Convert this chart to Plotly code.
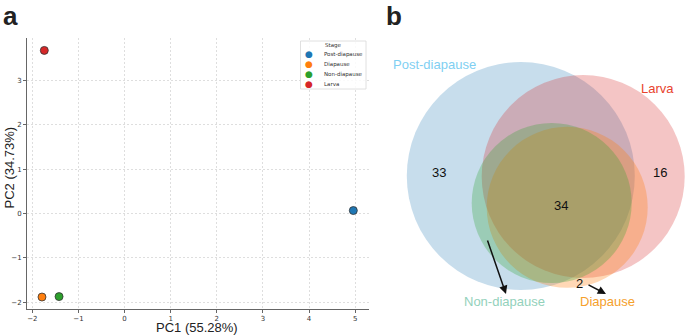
import plotly.graph_objects as go

# ---------------- data ----------------
stages = ["Post-diapause", "Diapause", "Non-diapause", "Larva"]
pc1 = [4.96, -1.79, -1.42, -1.74]
pc2 = [0.07, -1.88, -1.87, 3.68]
stage_colors = ["#1f77b4", "#ff7f0e", "#2ca02c", "#d62728"]

x_ticks = [-2, -1, 0, 1, 2, 3, 4, 5]
y_ticks = [-2, -1, 0, 1, 2, 3]

venn_sets = ["Post-diapause", "Larva", "Diapause", "Non-diapause"]
venn_regions = ["Post-diapause only", "Larva only", "Shared", "Diapause only"]
venn_counts = [33, 16, 34, 2]

# ---------------- layout constants ----------------
W, H = 685, 335
ax_left, ax_right, ax_top, ax_bottom = 27, 369, 38, 309

def px(x):
    return x / W

def py(y):
    return 1 - y / H

fig = go.Figure()

for name, x, y, c in zip(stages, pc1, pc2, stage_colors):
    fig.add_trace(go.Scatter(
        x=[x], y=[y], mode="markers", name=name, showlegend=False,
        marker=dict(size=8, color=c, line=dict(color="#333333", width=0.8)),
        xaxis="x", yaxis="y", hoverinfo="skip"))

# invisible trace so the venn axes exist
fig.add_trace(go.Scatter(x=[400], y=[300], mode="markers", marker=dict(opacity=0),
                         showlegend=False, xaxis="x2", yaxis="y2", hoverinfo="skip"))

tickfont = dict(family="DejaVu Sans", size=7, color="#333333")
grid_common = dict(showgrid=True, gridcolor="#dedede", gridwidth=0.7, griddash="2px,2px",
                   zeroline=False, showline=True, linecolor="#666666", linewidth=1,
                   ticks="outside", ticklen=3, tickcolor="#666666", tickwidth=0.8,
                   tickfont=tickfont)
fig.update_layout(
    width=W, height=H, margin=dict(l=0, r=0, t=0, b=0),
    paper_bgcolor="white", plot_bgcolor="rgba(0,0,0,0)",
    showlegend=False,
    xaxis=dict(domain=[px(ax_left), px(ax_right)], range=[-2.115, 5.30],
               tickvals=x_ticks, ticktext=[("\u2212" + str(-v)) if v < 0 else str(v) for v in x_ticks],
               anchor="y", **grid_common),
    yaxis=dict(domain=[py(ax_bottom), py(ax_top)], range=[-2.15, 3.96],
               tickvals=y_ticks, ticktext=[("\u2212" + str(-v)) if v < 0 else str(v) for v in y_ticks],
               anchor="x", **grid_common),
    xaxis2=dict(domain=[380 / W, 1], range=[380, 685], visible=False, anchor="y2",
                fixedrange=True),
    yaxis2=dict(domain=[0, 1], range=[335, 0], visible=False, anchor="x2",
                fixedrange=True),
)

annotations = []
shapes = []

# panel letters
annotations.append(dict(text="<b>a</b>", x=px(2), y=1, xref="paper", yref="paper",
                        xanchor="left", yanchor="top", showarrow=False, borderpad=0,
                        font=dict(family="Liberation Sans", size=26, color="#222222")))
annotations.append(dict(text="<b>b</b>", x=px(385), y=1, xref="paper", yref="paper",
                        xanchor="left", yanchor="top", showarrow=False, borderpad=0,
                        font=dict(family="Liberation Sans", size=26, color="#222222")))

# axis titles
annotations.append(dict(text="PC1 (55.28%)", x=px(197), y=py(327.5), xref="paper", yref="paper",
                        showarrow=False, xanchor="center", yanchor="middle", borderpad=0,
                        font=dict(family="Liberation Sans", size=13, color="#222222")))
annotations.append(dict(text="PC2 (34.73%)", x=px(8.5), y=py(168), xref="paper", yref="paper",
                        showarrow=False, textangle=-90, xanchor="center", yanchor="middle",
                        font=dict(family="Liberation Sans", size=13, color="#222222")))

# custom legend
leg_l, leg_r, leg_t, leg_b = 300.5, 366, 41, 89
shapes.append(dict(type="rect", xref="paper", yref="paper", x0=px(leg_l), x1=px(leg_r),
                   y0=py(leg_b), y1=py(leg_t), line=dict(color="#d8d8d8", width=0.8),
                   fillcolor="rgba(255,255,255,0.85)", layer="above"))
annotations.append(dict(text="Stage", x=px(333), y=py(45.5), xref="paper", yref="paper",
                        showarrow=False, xanchor="center", yanchor="middle",
                        font=dict(family="DejaVu Sans", size=5.5, color="#333333")))
for i, (name, c) in enumerate(zip(stages, stage_colors)):
    yy = 54.5 + i * 9.8
    annotations.append(dict(text="\u25CF", x=px(309), y=py(yy), xref="paper", yref="paper",
                            showarrow=False, xanchor="center", yanchor="middle",
                            font=dict(family="DejaVu Sans", size=9, color=c)))
    annotations.append(dict(text=name, x=px(321.5), y=py(yy), xref="paper", yref="paper",
                            showarrow=False, xanchor="left", yanchor="middle",
                            font=dict(family="DejaVu Sans", size=5.5, color="#333333")))

# venn circles (center x, center y, radius) in pixel space of panel b
circle_geom = {
    "Post-diapause": (520.8, 176, 114, "rgba(31,119,180,0.25)"),
    "Larva": (583.2, 176.5, 101.5, "rgba(214,39,40,0.27)"),
    "Diapause": (567.2, 207.3, 80.5, "rgba(255,127,14,0.30)"),
    "Non-diapause": (551.7, 203, 80, "rgba(44,160,44,0.28)"),
}
for s in venn_sets:
    cx, cy, r, col = circle_geom[s]
    shapes.append(dict(type="circle", xref="x2", yref="y2", x0=cx - r, x1=cx + r,
                       y0=cy - r, y1=cy + r, fillcolor=col, line=dict(width=0),
                       layer="above"))

set_label_style = {
    "Post-diapause": (434, 64, "#7fcff2"),
    "Larva": (657.5, 88, "#e8432d"),
    "Non-diapause": (504, 301, "#93d1bb"),
    "Diapause": (607, 301, "#f5a02c"),
}
for s in venn_sets:
    x, y, col = set_label_style[s]
    annotations.append(dict(text=s, x=x, y=y, xref="x2", yref="y2", showarrow=False,
                            xanchor="center", yanchor="middle",
                            font=dict(family="Liberation Sans", size=13, color=col)))

count_pos = {
    "Post-diapause only": (439, 172),
    "Larva only": (660, 172),
    "Shared": (561, 205),
    "Diapause only": (579, 283),
}
for reg, cnt in zip(venn_regions, venn_counts):
    x, y = count_pos[reg]
    annotations.append(dict(text=str(cnt), x=x, y=y, xref="x2", yref="y2", showarrow=False,
                            xanchor="center", yanchor="middle",
                            font=dict(family="Liberation Sans", size=13, color="#111111")))

# arrows
for (tx, ty, hx, hy) in [(487, 239, 506, 294), (587, 284, 606, 294)]:
    annotations.append(dict(x=hx, y=hy, ax=tx, ay=ty, xref="x2", yref="y2",
                            axref="x2", ayref="y2", showarrow=True, text="",
                            arrowhead=2, arrowsize=1.1, arrowwidth=1.5, arrowcolor="#111111"))

fig.update_layout(annotations=annotations, shapes=shapes)
fig.write_html("out.html", config={"displayModeBar": False},
               post_script="document.body.style.margin='0';document.body.style.overflow='hidden';")
